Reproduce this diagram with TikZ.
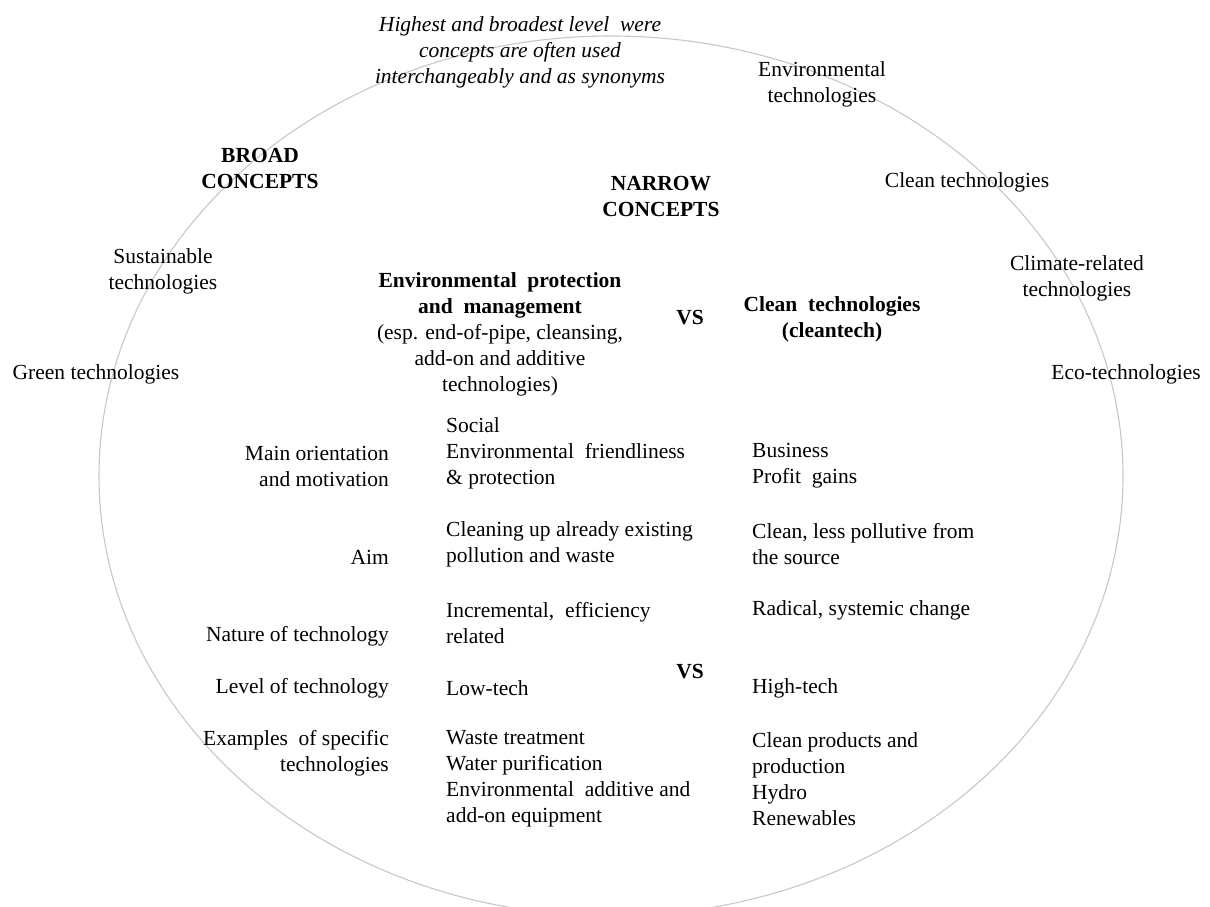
\documentclass[tikz,border=0pt]{standalone}
\usepackage{fontspec}
\setmainfont{Liberation Serif}
\newcommand{\dsz}{\fontsize{21.5}{26}\selectfont}
\begin{document}
\begin{tikzpicture}[x=1pt,y=-1pt,
  txt/.style={inner sep=0pt, font=\dsz},
  ctr/.style={txt, align=center},
  hd/.style={ctr, font=\dsz\bfseries},
  note/.style={ctr, font=\dsz\itshape},
  lab/.style={txt, align=right, anchor=east},
  col/.style={txt, align=left, anchor=west},
  ring/.style={draw=black!22, line width=1.1pt}]
\useasboundingbox (0,0) rectangle (1210,907);
\clip (0,0) rectangle (1210,907);
\draw[ring] (611,476) ellipse [x radius=512pt, y radius=440pt];

% top note
\node[note] (note) at (520,52) {Highest and broadest level\ \ were\\concepts are often used\\interchangeably and as synonyms};

% broad concepts around the ring
\node[ctr] (envtech) at (822,84) {Environmental\\technologies};
\node[hd] (broad) at (260,168) {BROAD\\CONCEPTS};
\node[hd] (narrow) at (661,196) {NARROW\\CONCEPTS};
\node[ctr] (cleantech) at (967,182) {Clean technologies};
\node[ctr] (sust) at (163,271) {Sustainable\\technologies};
\node[ctr] (climate) at (1077,278) {Climate-related\\technologies};
\node[ctr] (green) at (96,374) {Green technologies};
\node[ctr] (eco) at (1126,374) {Eco-technologies};

% narrow concepts headers
\node[ctr] (epm) at (500,334.5) {\textbf{Environmental\ \ protection}\\\textbf{and\ \ management}\\(esp. end-of-pipe, cleansing,\\add-on and additive\\technologies)};
\node[hd] (vs1) at (690,318) {VS};
\node[hd] (ct) at (832,319) {Clean\ \ technologies\\(cleantech)};

% row labels
\node[lab] (l1) at (389,466) {Main orientation\\and motivation};
\node[lab] (l2) at (389,557) {Aim};
\node[lab] (l3) at (389,636) {Nature of technology};
\node[lab] (l4) at (389,688) {Level of technology};
\node[lab] (l5) at (389,753) {Examples\ \ of specific\\technologies};

% middle column
\node[col] (m1) at (446,453) {Social\\Environmental\ \ friendliness\\\& protection};
\node[col] (m2) at (446,544) {Cleaning up already existing\\pollution and waste};
\node[col] (m3) at (446,623) {Incremental,\ \ efficiency\\related};
\node[col] (m4) at (446,688) {Low-tech};
\node[col] (m5) at (446,779) {Waste treatment\\Water purification\\Environmental\ \ additive and\\add-on equipment};

\node[hd] (vs2) at (690,672) {VS};

% right column
\node[col] (r1) at (752,466) {Business\\Profit\ \ gains};
\node[col] (r2) at (752,544) {Clean, less pollutive from\\the source};
\node[col] (r3) at (752,610) {Radical, systemic change};
\node[col] (r4) at (752,688) {High-tech};
\node[col] (r5) at (752,779) {Clean products and\\production\\Hydro\\Renewables};
\end{tikzpicture}
\end{document}
